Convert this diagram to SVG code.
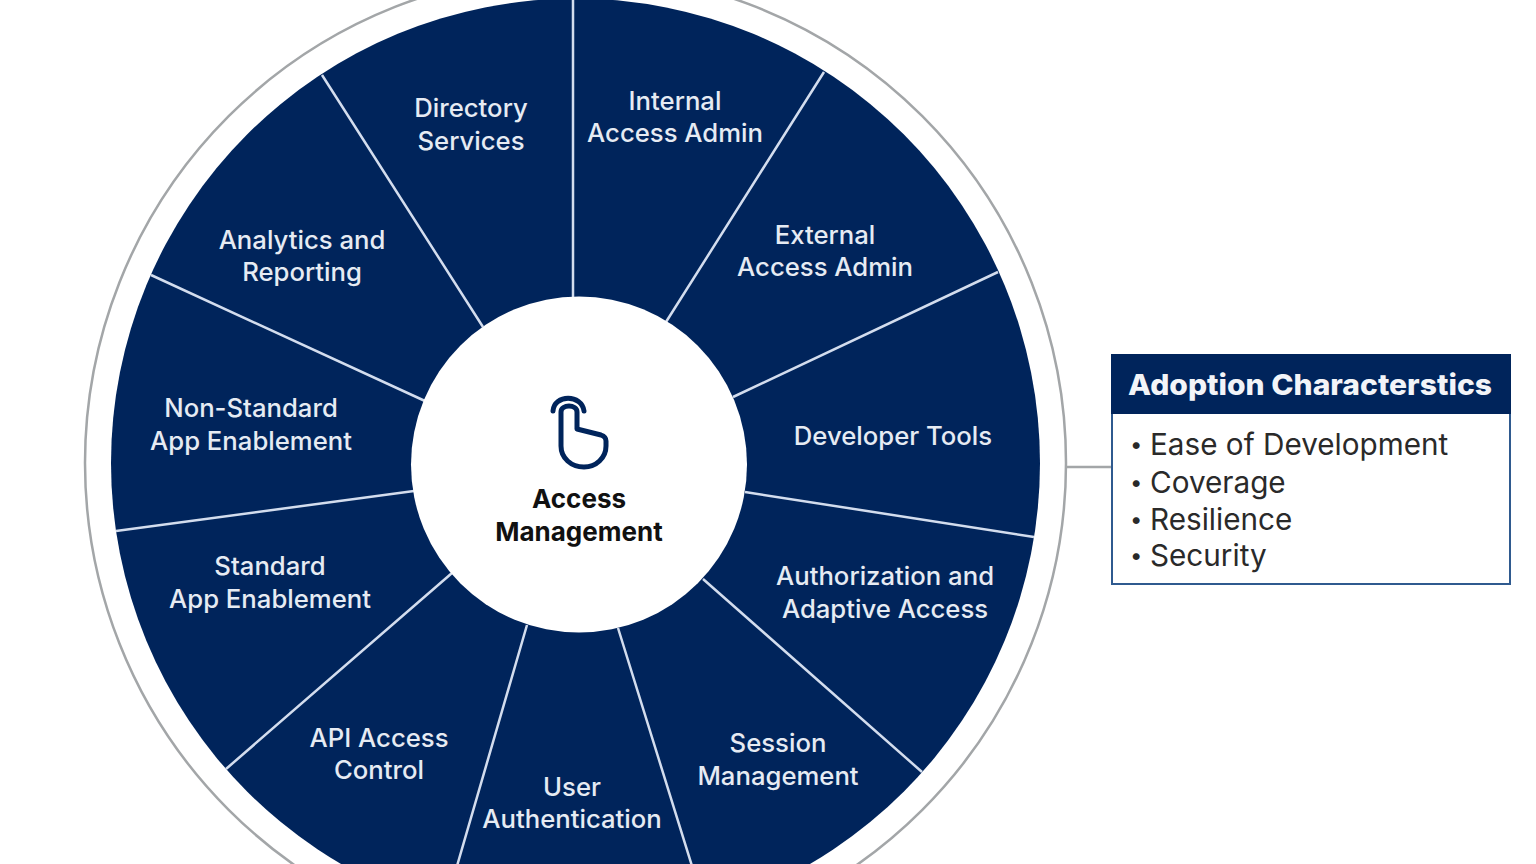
<svg xmlns="http://www.w3.org/2000/svg" width="1536" height="864" viewBox="0 0 1536 864">
<style>
text{font-family:"Inter","Liberation Sans",sans-serif;text-anchor:middle}
.s{font-size:25.7px;fill:#e6ebf3;font-weight:500}
.c{font-size:26px;fill:#111;font-weight:700}
.l{font-size:29.7px;fill:#2a2a2a;text-anchor:start}
.b{font-size:22px;fill:#2a2a2a}
.sp{stroke:#d3ddee;stroke-width:2.5;fill:none}
</style>
<rect width="1536" height="864" fill="#fff"/>
<g id="wheel">
<circle cx="575.5" cy="463" r="490.5" fill="none" stroke="#a3a6a8" stroke-width="2.5"/>
<circle cx="575.5" cy="463" r="464.5" fill="#00245b"/>
</g>
<g id="connectors">
<path class="sp" d="M573 -2V297M824 72L666 322M998 272L733 397M1034 537L745 492M922 772L703 579M692 866L618 628M457 866L527 625M226 769L452 573M116 531L414 491M151 275L425 401M322 75L483 327"/>
<path d="M1066 467H1112" stroke="#a3a6a8" stroke-width="2.5" fill="none"/>
</g>
<g id="hub">
<circle cx="579" cy="464.5" r="168" fill="#fff"/>
<g fill="none" stroke="#00245b" stroke-width="5" stroke-linecap="round" stroke-linejoin="round">
<path d="M553 411C554 394 582 394 584 411"/>
<path d="M561 412C561 404 577 404 577 412V429L601 435C604 436 606 438 606 441V446C606 458 596 467 584 467C571 467 561 458 561 446Z"/>
</g>
<text class="c" x="579" y="508">Access</text>
<text class="c" x="579" y="541">Management</text>
</g>
<g id="n1"><text class="s" x="471" y="117">Directory</text><text class="s" x="471" y="150">Services</text></g>
<g id="n2"><text class="s" x="675" y="110">Internal</text><text class="s" x="675" y="142">Access Admin</text></g>
<g id="n3"><text class="s" x="825" y="244">External</text><text class="s" x="825" y="276">Access Admin</text></g>
<g id="n4"><text class="s" x="893" y="445">Developer Tools</text></g>
<g id="n5"><text class="s" x="885" y="585">Authorization and</text><text class="s" x="885" y="618">Adaptive Access</text></g>
<g id="n6"><text class="s" x="778" y="752">Session</text><text class="s" x="778" y="785">Management</text></g>
<g id="n7"><text class="s" x="572" y="796">User</text><text class="s" x="572" y="828">Authentication</text></g>
<g id="n8"><text class="s" x="379" y="747">API Access</text><text class="s" x="379" y="779">Control</text></g>
<g id="n9"><text class="s" x="270" y="575">Standard</text><text class="s" x="270" y="608">App Enablement</text></g>
<g id="n10"><text class="s" x="251" y="417">Non-Standard</text><text class="s" x="251" y="450">App Enablement</text></g>
<g id="n11"><text class="s" x="302" y="249">Analytics and</text><text class="s" x="302" y="281">Reporting</text></g>
<g id="box">
<rect x="1112" y="355" width="398" height="229" fill="#fff" stroke="#2f5a8f" stroke-width="2"/>
<rect x="1111" y="354" width="400" height="60" fill="#00245b"/>
<text x="1310" y="395" textLength="364" lengthAdjust="spacingAndGlyphs" style="font-size:29px;font-weight:800;fill:#f2f4f8">Adoption Characterstics</text>
<text class="l" x="1130" y="452"><tspan class="b">•</tspan></text><text class="l" x="1150" y="455">Ease of Development</text>
<text class="l" x="1130" y="490"><tspan class="b">•</tspan></text><text class="l" x="1150" y="493">Coverage</text>
<text class="l" x="1130" y="527"><tspan class="b">•</tspan></text><text class="l" x="1150" y="530">Resilience</text>
<text class="l" x="1130" y="563"><tspan class="b">•</tspan></text><text class="l" x="1150" y="566">Security</text>
</g>
</svg>
